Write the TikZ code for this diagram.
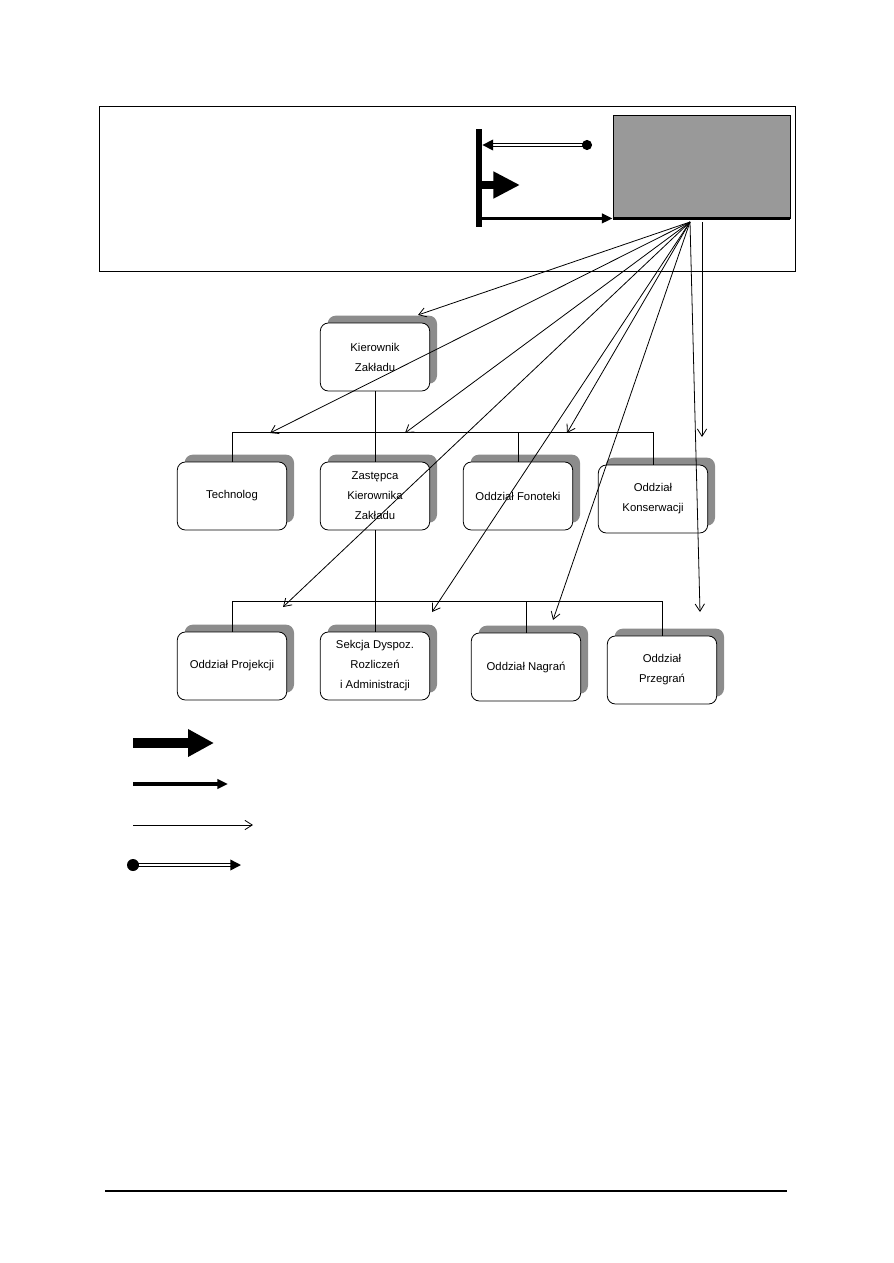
\documentclass[tikz,border=0pt]{standalone}
\usepackage{fontspec}
\setmainfont{Liberation Sans}
\usetikzlibrary{arrows.meta,shadows,positioning,calc}

\begin{document}
\begin{tikzpicture}[x=0.75pt, y=-0.75pt, line width=0.6pt, font=\fontsize{8.5}{15}\selectfont]
\tikzstyle{unit}=[draw, fill=white, rounded corners=6pt, minimum width=82pt, minimum height=51pt, align=center, inner sep=2pt, drop shadow={shadow xshift=5.5pt, shadow yshift=5.5pt, fill=black!45, opacity=1}]
\tikzstyle{fanarrow}=[-{Straight Barb[length=5.5pt,width=7pt]}]
\tikzstyle{dblarrow}=[double, line width=1.1pt, double distance=0.9pt, -{Triangle[length=8pt,width=8pt]}]
\useasboundingbox (0,0) rectangle (893,1263);

% top panel
\draw (99,106) rectangle (795,271);
\node (panel) [draw, fill=black!40, minimum width=132.75pt, minimum height=77.25pt, inner sep=0] at (701.5,166.5) {};
\draw[line width=1.8pt] (panel.south west) -- (panel.south east);
\node (bar) [fill=black, inner sep=0, minimum width=4.5pt, minimum height=73.5pt] at (479,178) {};
\coordinate (dot) at (587,145);
\coordinate (blk) at (520,185);
\draw[dblarrow] (dot) -- (bar.east |- dot);
\fill (dot) circle (3.8pt);
\draw[line width=6pt, -{Triangle[length=20pt,width=19pt]}] (bar.east |- blk) -- (blk);
\draw[line width=2.2pt, -{Triangle[length=8pt,width=7pt]}] (bar.east |- panel.south) -- (panel.south west);

% units
\node[unit] (kier) at (375,357) {Kierownik\\Zakładu};
\node[unit] (tech) at (232,496) {Technolog};
\node[unit] (zast) at (375,496) {Zastępca\\Kierownika\\Zakładu};
\node[unit] (fono) at (518,496) {Oddział Fonoteki};
\node[unit] (kons) at (653,499) {Oddział\\Konserwacji};
\node[unit] (proj) at (232,666) {Oddział Projekcji};
\node[unit] (sekc) at (375,666) {Sekcja Dyspoz.\\Rozliczeń\\i Administracji};
\node[unit] (nagr) at (526,667) {Oddział Nagrań};
\node[unit] (przeg) at (662,670) {Oddział\\Przegrań};

% brackets
\coordinate (bus1) at (0,432);
\coordinate (bus2) at (0,601);
\draw (kier.south) -- (kier.south |- bus1);
\draw (tech.north |- bus1) -- (kons.north |- bus1);
\foreach \n in {tech,zast,fono,kons}
  \draw (\n.north) -- (\n.north |- bus1);
\draw (zast.south) -- (zast.south |- bus2);
\draw (proj.north |- bus2) -- (przeg.north |- bus2);
\foreach \n in {proj,sekc,nagr,przeg}
  \draw (\n.north) -- (\n.north |- bus2);

% fan of arrows
\coordinate (fan) at (690,222);
\coordinate (fan2) at (702,222);
\coordinate (a-kier) at (418,315);
\coordinate (a-tech) at (270,433);
\coordinate (a-zast) at (405,433);
\coordinate (a-fono) at (567,433);
\coordinate (a-kons) at (702,437);
\coordinate (a-proj) at (283,607);
\coordinate (a-sekc) at (432,612);
\coordinate (a-nagr) at (553,620);
\coordinate (a-przeg) at (700,612);
\foreach \n in {kier,tech,zast,fono,proj,sekc,nagr,przeg}
  \draw[fanarrow] (fan) -- (a-\n);
\draw[fanarrow] (fan2) -- (a-kons);

% legend
\coordinate (k1a) at (133,743); \coordinate (k1b) at (214,743);
\coordinate (k2a) at (133,784); \coordinate (k2b) at (228,784);
\coordinate (k3a) at (133,825); \coordinate (k3b) at (253,825);
\coordinate (k4a) at (133,865); \coordinate (k4b) at (241,865);
\draw[line width=6.8pt, -{Triangle[length=19.5pt,width=19.5pt]}] (k1a) -- (k1b);
\draw[line width=2.3pt, -{Triangle[length=8pt,width=7pt]}] (k2a) -- (k2b);
\draw[fanarrow] (k3a) -- (k3b);
\draw[dblarrow] (k4a) -- (k4b);
\fill (k4a) circle (4.5pt);

\draw[line width=2pt] (105,1191) -- (787,1191);
\end{tikzpicture}
\end{document}
